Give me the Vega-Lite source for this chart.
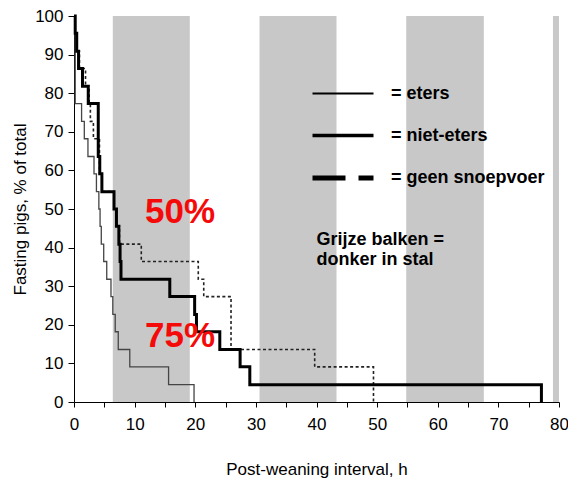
{
  "$schema": "https://vega.github.io/schema/vega-lite/v6.json",
  "width": 485,
  "height": 386,
  "autosize": {"type": "none"},
  "padding": {"left": 74, "top": 16, "right": 9, "bottom": 79},
  "background": "white",
  "config": {
    "view": {"stroke": null},
    "font": "Liberation Sans",
    "axis": {"grid": false, "domainColor": "#000", "tickColor": "#000", "labelColor": "#000", "titleColor": "#000", "labelFont": "Liberation Sans", "titleFont": "Liberation Sans", "labelFontSize": 17, "titleFontSize": 17, "titleFontWeight": "normal", "labelOverlap": false, "labelFlush": false},
    "axisX": {"tickSize": 5, "labelPadding": 9, "titlePadding": 29},
    "axisY": {"tickSize": 6, "labelPadding": 5, "titlePadding": 5},
    "legend": {
      "orient": "none", "legendX": 236, "legendY": 46, "title": null, "padding": 0,
      "symbolType": "stroke", "symbolSize": 3721, "rowPadding": 0, "symbolOpacity": 1, "symbolStrokeColor": "#000",
      "labelFont": "Liberation Sans", "labelFontSize": 18, "labelFontWeight": "bold", "labelColor": "#000", "labelOffset": 15
    }
  },
  "datasets": {
    "bands": [
      {"start": 6.4, "end": 19.1},
      {"start": 30.6, "end": 43.3},
      {"start": 54.8, "end": 67.6},
      {"start": 79.0, "end": 80.0}
    ],
    "curves": [
      {"group": "eters", "hour": 0, "pct": 100},
      {"group": "eters", "hour": 0.2, "pct": 77.3},
      {"group": "eters", "hour": 1.25, "pct": 72.7},
      {"group": "eters", "hour": 1.7, "pct": 68.2},
      {"group": "eters", "hour": 2.3, "pct": 63.6},
      {"group": "eters", "hour": 3.3, "pct": 59.1},
      {"group": "eters", "hour": 3.7, "pct": 54.5},
      {"group": "eters", "hour": 4.1, "pct": 50.0},
      {"group": "eters", "hour": 4.3, "pct": 45.5},
      {"group": "eters", "hour": 4.5, "pct": 40.9},
      {"group": "eters", "hour": 4.9, "pct": 36.4},
      {"group": "eters", "hour": 5.4, "pct": 31.8},
      {"group": "eters", "hour": 6.1, "pct": 27.3},
      {"group": "eters", "hour": 6.4, "pct": 22.7},
      {"group": "eters", "hour": 6.8, "pct": 18.2},
      {"group": "eters", "hour": 7.3, "pct": 13.6},
      {"group": "eters", "hour": 9.2, "pct": 9.1},
      {"group": "eters", "hour": 15.6, "pct": 4.5},
      {"group": "eters", "hour": 19.8, "pct": 0},
      {"group": "geen snoepvoer", "hour": 0, "pct": 100},
      {"group": "geen snoepvoer", "hour": 0.2, "pct": 95.5},
      {"group": "geen snoepvoer", "hour": 0.5, "pct": 90.9},
      {"group": "geen snoepvoer", "hour": 0.9, "pct": 86.4},
      {"group": "geen snoepvoer", "hour": 1.9, "pct": 81.8},
      {"group": "geen snoepvoer", "hour": 2.5, "pct": 77.3},
      {"group": "geen snoepvoer", "hour": 2.7, "pct": 72.7},
      {"group": "geen snoepvoer", "hour": 3.2, "pct": 68.2},
      {"group": "geen snoepvoer", "hour": 4.2, "pct": 59.1},
      {"group": "geen snoepvoer", "hour": 4.6, "pct": 54.5},
      {"group": "geen snoepvoer", "hour": 6.6, "pct": 50.0},
      {"group": "geen snoepvoer", "hour": 7.0, "pct": 45.5},
      {"group": "geen snoepvoer", "hour": 7.5, "pct": 40.9},
      {"group": "geen snoepvoer", "hour": 11.1, "pct": 36.4},
      {"group": "geen snoepvoer", "hour": 20.5, "pct": 31.8},
      {"group": "geen snoepvoer", "hour": 21.4, "pct": 27.3},
      {"group": "geen snoepvoer", "hour": 25.9, "pct": 13.6},
      {"group": "geen snoepvoer", "hour": 39.7, "pct": 9.1},
      {"group": "geen snoepvoer", "hour": 49.4, "pct": 0},
      {"group": "niet-eters", "hour": 0, "pct": 100},
      {"group": "niet-eters", "hour": 0.2, "pct": 95.5},
      {"group": "niet-eters", "hour": 0.45, "pct": 90.9},
      {"group": "niet-eters", "hour": 0.75, "pct": 86.4},
      {"group": "niet-eters", "hour": 1.4, "pct": 81.8},
      {"group": "niet-eters", "hour": 2.35, "pct": 77.3},
      {"group": "niet-eters", "hour": 4.0, "pct": 63.6},
      {"group": "niet-eters", "hour": 4.25, "pct": 59.1},
      {"group": "niet-eters", "hour": 4.6, "pct": 54.5},
      {"group": "niet-eters", "hour": 6.6, "pct": 50.0},
      {"group": "niet-eters", "hour": 7.0, "pct": 45.5},
      {"group": "niet-eters", "hour": 7.4, "pct": 40.9},
      {"group": "niet-eters", "hour": 7.6, "pct": 36.4},
      {"group": "niet-eters", "hour": 7.75, "pct": 31.8},
      {"group": "niet-eters", "hour": 15.8, "pct": 27.3},
      {"group": "niet-eters", "hour": 19.9, "pct": 22.7},
      {"group": "niet-eters", "hour": 20.2, "pct": 18.2},
      {"group": "niet-eters", "hour": 24.05, "pct": 13.6},
      {"group": "niet-eters", "hour": 27.4, "pct": 9.1},
      {"group": "niet-eters", "hour": 29.0, "pct": 4.5},
      {"group": "niet-eters", "hour": 77.1, "pct": 0}
    ],
    "labels": [
      {"label": "50%", "hour": 17.5, "pct": 49.2},
      {"label": "75%", "hour": 17.5, "pct": 17.1}
    ],
    "note": [
      {"hour": 40.0, "pct": 44.2}
    ]
  },
  "layer": [
    {
      "data": {"name": "bands"},
      "mark": {"type": "rect", "fill": "#c8c8c8"},
      "encoding": {
        "x": {
          "field": "start", "type": "quantitative",
          "scale": {"domain": [0, 80], "nice": false},
          "axis": {"title": "Post-weaning interval, h", "values": [0, 5, 10, 15, 20, 25, 30, 35, 40, 45, 50, 55, 60, 65, 70, 75, 80], "labelExpr": "datum.value % 10 === 0 ? datum.label : ''"}
        },
        "x2": {"field": "end"}
      }
    },
    {
      "mark": {"type": "rule", "color": "#000", "strokeWidth": 1},
      "encoding": {
        "y": {
          "datum": 100, "type": "quantitative",
          "scale": {"domain": [0, 100], "nice": false},
          "axis": {"title": "Fasting pigs, % of total", "values": [0, 10, 20, 30, 40, 50, 60, 70, 80, 90, 100]}
        }
      }
    },
    {
      "data": {"name": "curves"},
      "transform": [{"filter": "datum.group === 'eters'"}],
      "mark": {"type": "line", "interpolate": "step-after", "color": "#454545", "strokeWidth": 1.3},
      "encoding": {
        "x": {"field": "hour", "type": "quantitative", "axis": {"title": "Post-weaning interval, h", "values": [0, 5, 10, 15, 20, 25, 30, 35, 40, 45, 50, 55, 60, 65, 70, 75, 80], "labelExpr": "datum.value % 10 === 0 ? datum.label : ''"}},
        "y": {"field": "pct", "type": "quantitative", "axis": {"title": "Fasting pigs, % of total", "values": [0, 10, 20, 30, 40, 50, 60, 70, 80, 90, 100]}},
        "order": {"field": "hour", "type": "quantitative"}
      }
    },
    {
      "data": {"name": "curves"},
      "transform": [{"filter": "datum.group === 'geen snoepvoer'"}],
      "mark": {"type": "line", "interpolate": "step-after", "color": "#222222", "strokeWidth": 1.6, "strokeDash": [3, 2.5]},
      "encoding": {
        "x": {"field": "hour", "type": "quantitative", "axis": {"title": "Post-weaning interval, h", "values": [0, 5, 10, 15, 20, 25, 30, 35, 40, 45, 50, 55, 60, 65, 70, 75, 80], "labelExpr": "datum.value % 10 === 0 ? datum.label : ''"}},
        "y": {"field": "pct", "type": "quantitative", "axis": {"title": "Fasting pigs, % of total", "values": [0, 10, 20, 30, 40, 50, 60, 70, 80, 90, 100]}},
        "order": {"field": "hour", "type": "quantitative"}
      }
    },
    {
      "data": {"name": "curves"},
      "transform": [{"filter": "datum.group === 'niet-eters'"}],
      "mark": {"type": "line", "interpolate": "step-after", "color": "#000000", "strokeWidth": 3},
      "encoding": {
        "x": {"field": "hour", "type": "quantitative", "axis": {"title": "Post-weaning interval, h", "values": [0, 5, 10, 15, 20, 25, 30, 35, 40, 45, 50, 55, 60, 65, 70, 75, 80], "labelExpr": "datum.value % 10 === 0 ? datum.label : ''"}},
        "y": {"field": "pct", "type": "quantitative", "axis": {"title": "Fasting pigs, % of total", "values": [0, 10, 20, 30, 40, 50, 60, 70, 80, 90, 100]}},
        "order": {"field": "hour", "type": "quantitative"}
      }
    },
    {
      "data": {"name": "curves"},
      "mark": {"type": "line", "interpolate": "step-after", "color": "#000000", "opacity": 0},
      "encoding": {
        "x": {"field": "hour", "type": "quantitative", "axis": {"title": "Post-weaning interval, h", "values": [0, 5, 10, 15, 20, 25, 30, 35, 40, 45, 50, 55, 60, 65, 70, 75, 80], "labelExpr": "datum.value % 10 === 0 ? datum.label : ''"}},
        "y": {"field": "pct", "type": "quantitative", "axis": {"title": "Fasting pigs, % of total", "values": [0, 10, 20, 30, 40, 50, 60, 70, 80, 90, 100]}},
        "strokeDash": {
          "field": "group", "type": "nominal",
          "scale": {"domain": ["eters", "niet-eters", "geen snoepvoer"], "range": [[1, 0], [1, 0], [33, 13, 15, 200]]},
          "legend": {"labelExpr": "'= ' + datum.label"}
        },
        "strokeWidth": {
          "field": "group", "type": "nominal",
          "scale": {"domain": ["eters", "niet-eters", "geen snoepvoer"], "range": [2, 5, 4]},
          "legend": {"labelExpr": "'= ' + datum.label"}
        },
        "order": {"field": "hour", "type": "quantitative"}
      }
    },
    {
      "data": {"name": "labels"},
      "mark": {"type": "text", "fontSize": 35, "fontWeight": "bold", "font": "Liberation Sans", "color": "#f50a0a", "align": "center", "baseline": "middle"},
      "encoding": {
        "x": {"field": "hour", "type": "quantitative", "axis": {"title": "Post-weaning interval, h", "values": [0, 5, 10, 15, 20, 25, 30, 35, 40, 45, 50, 55, 60, 65, 70, 75, 80], "labelExpr": "datum.value % 10 === 0 ? datum.label : ''"}},
        "y": {"field": "pct", "type": "quantitative", "axis": {"title": "Fasting pigs, % of total", "values": [0, 10, 20, 30, 40, 50, 60, 70, 80, 90, 100]}},
        "text": {"field": "label"}
      }
    },
    {
      "data": {"name": "note"},
      "mark": {"type": "text", "text": ["Grijze balken =", "donker in stal"], "fontSize": 18, "fontWeight": "bold", "font": "Liberation Sans", "color": "#000", "align": "left", "baseline": "top", "lineHeight": 20},
      "encoding": {
        "x": {"field": "hour", "type": "quantitative", "axis": {"title": "Post-weaning interval, h", "values": [0, 5, 10, 15, 20, 25, 30, 35, 40, 45, 50, 55, 60, 65, 70, 75, 80], "labelExpr": "datum.value % 10 === 0 ? datum.label : ''"}},
        "y": {"field": "pct", "type": "quantitative", "axis": {"title": "Fasting pigs, % of total", "values": [0, 10, 20, 30, 40, 50, 60, 70, 80, 90, 100]}}
      }
    }
  ]
}
